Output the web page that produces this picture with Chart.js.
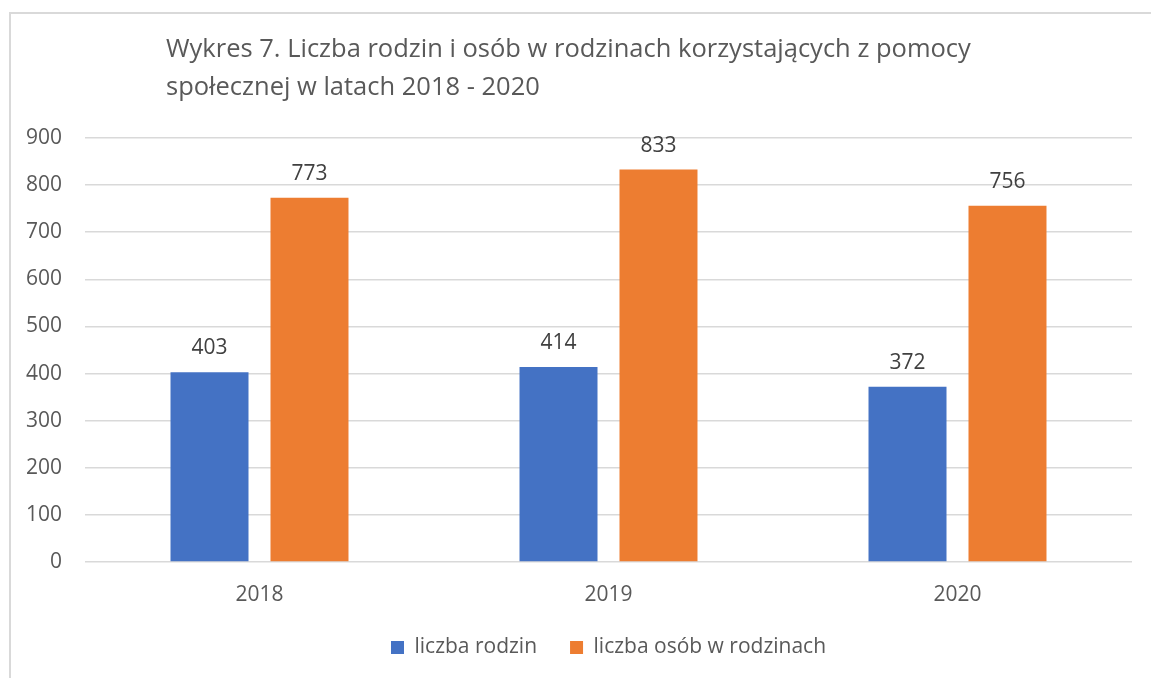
<!DOCTYPE html>
<html>
<head>
<meta charset="utf-8">
<script src="https://cdn.jsdelivr.net/npm/chart.js@4.4.0/dist/chart.umd.min.js"></script>
<style>
    html, body { margin: 0; padding: 0; background: #fff; overflow: hidden; }
    #wrap { position: relative; width: 1151px; height: 678px; }
    #frame {
        position: absolute; left: 9px; top: 12px;
        width: 1300px; height: 800px;
        border: 2px solid #d9d9d9;
    }
    canvas { position: absolute; left: 0; top: 0; }
</style>
</head>
<body>
<div id="wrap">
    <div id="frame"></div>
    <canvas id="chart" width="1151" height="678"></canvas>
</div>
<script>
const titleLines = [
    'Wykres 7. Liczba rodzin i osób w rodzinach korzystających z pomocy',
    'społecznej w latach 2018 - 2020'
];
const years = ['2018', '2019', '2020'];
const families = [403, 414, 372];
const persons = [773, 833, 756];
const seriesNames = ['liczba rodzin', 'liczba osób w rodzinach'];

const FONT = '"Open Sans", sans-serif';

// title drawn left-aligned like the Excel original
const titlePlugin = {
    id: 'leftTitle',
    afterDraw(chart) {
        const ctx = chart.ctx;
        ctx.save();
        ctx.font = '25.5px ' + FONT;
        ctx.fillStyle = '#595959';
        ctx.textAlign = 'left';
        ctx.textBaseline = 'alphabetic';
        ctx.fillText(titleLines[0], 166, 57);
        ctx.fillText(titleLines[1], 166, 95);
        ctx.restore();
    }
};

// value labels above each bar
const valueLabels = {
    id: 'valueLabels',
    afterDatasetsDraw(chart) {
        const ctx = chart.ctx;
        ctx.save();
        ctx.font = '21px ' + FONT;
        ctx.fillStyle = '#404040';
        ctx.textAlign = 'center';
        ctx.textBaseline = 'alphabetic';
        chart.data.datasets.forEach((ds, i) => {
            chart.getDatasetMeta(i).data.forEach((bar, j) => {
                ctx.fillText(ds.data[j], bar.x, bar.y - 18);
            });
        });
        ctx.restore();
    }
};

new Chart(document.getElementById('chart'), {
    type: 'bar',
    data: {
        labels: years,
        datasets: [
            {
                label: seriesNames[0],
                data: families,
                backgroundColor: '#4472C4',
                categoryPercentage: 0.573,
                barPercentage: 0.78
            },
            {
                label: seriesNames[1],
                data: persons,
                backgroundColor: '#ED7D31',
                categoryPercentage: 0.573,
                barPercentage: 0.78
            }
        ]
    },
    options: {
        responsive: false,
        animation: false,
        layout: {
            padding: { top: 138, right: 19, left: 0, bottom: 10 }
        },
        plugins: {
            title: { display: false },
            tooltip: { enabled: false },
            legend: {
                position: 'bottom',
                fullSize: false, // centre under the plot area
                labels: {
                    color: '#595959',
                    font: { family: FONT, size: 21 },
                    boxWidth: 13,
                    boxHeight: 13,
                    padding: 33
                }
            }
        },
        scales: {
            x: {
                afterFit(scale) { scale.height = 42; },
                grid: { display: false },
                border: { display: false },
                ticks: {
                    color: '#595959',
                    font: { family: FONT, size: 21 },
                    padding: 12
                }
            },
            y: {
                min: 0,
                max: 900,
                afterFit(scale) { scale.width = 85; },
                grid: { color: '#d9d9d9', lineWidth: 1.5, drawTicks: false },
                border: { display: false },
                ticks: {
                    stepSize: 100,
                    color: '#595959',
                    font: { family: FONT, size: 21 },
                    padding: 23
                }
            }
        }
    },
    plugins: [titlePlugin, valueLabels]
});
</script>
</body>
</html>
